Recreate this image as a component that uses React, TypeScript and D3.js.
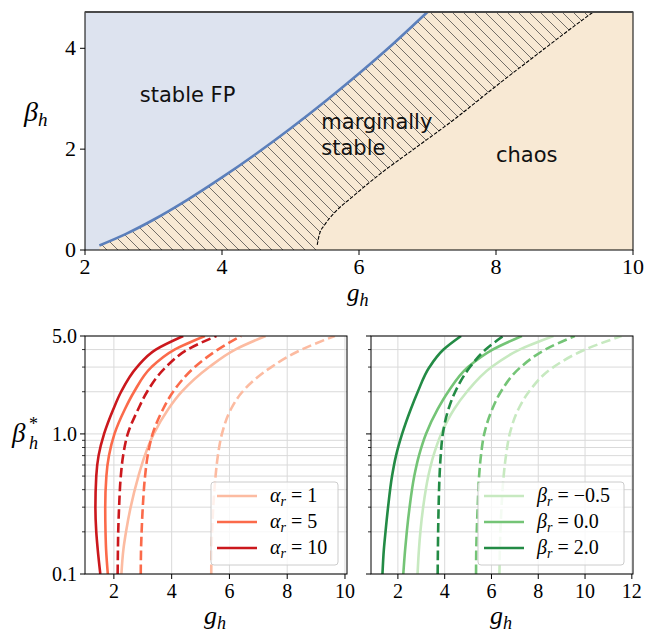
import React from "react";
import * as d3 from "d3";

const W = 660;
const H = 633;

// ---- top panel: phase diagram (g_h, beta_h)
const fpG = [2.21, 2.6, 3.0, 3.5, 4.0, 4.5, 5.0, 5.5, 6.0, 6.5, 7.0];
const fpBeta = [0.09, 0.32, 0.6, 1.0, 1.44, 1.91, 2.41, 2.94, 3.5, 4.09, 4.72];
const chaosG = [5.39, 5.42, 5.5, 5.65, 5.9, 6.3, 6.8, 7.4, 8.0, 8.6, 9.2, 9.42];
const chaosBeta = [0.1, 0.3, 0.5, 0.75, 1.05, 1.5, 2.0, 2.6, 3.25, 3.88, 4.5, 4.72];
const topXTicks = [2, 4, 6, 8, 10];
const topYTicks = [0, 2, 4];

// ---- bottom panels: beta_h* vs g_h
const betaLevels = [0.1, 0.15, 0.2, 0.3, 0.5, 0.7, 1.0, 1.5, 2.0, 3.0, 4.0, 5.0];
const alphaLabels = ["1", "5", "10"];
const alphaColors = ["#fcbba1", "#fb6a4a", "#cb181d"];
const alphaSolidG = [
  [2.26, 2.33, 2.42, 2.58, 2.85, 3.07, 3.38, 3.88, 4.35, 5.3, 6.2, 7.25],
  [1.79, 1.73, 1.71, 1.7, 1.74, 1.83, 2.02, 2.38, 2.7, 3.3, 4.1, 5.15],
  [1.53, 1.44, 1.39, 1.36, 1.39, 1.47, 1.66, 1.98, 2.25, 2.8, 3.45, 4.4],
];
const alphaDashedG = [
  [5.37, 5.38, 5.4, 5.44, 5.52, 5.6, 5.74, 6.05, 6.45, 7.45, 8.5, 9.65],
  [2.93, 2.94, 2.96, 3.0, 3.08, 3.17, 3.34, 3.7, 4.05, 4.8, 5.6, 6.4],
  [2.13, 2.14, 2.15, 2.18, 2.24, 2.32, 2.48, 2.84, 3.15, 3.8, 4.55, 5.55],
];
const betaRLabels = ["\u22120.5", "0.0", "2.0"];
const betaRColors = ["#c7e9c0", "#74c476", "#238b45"];
const betaRSolidG = [
  [2.84, 2.9, 2.96, 3.08, 3.3, 3.52, 3.85, 4.4, 4.95, 6.0, 7.2, 8.65],
  [2.23, 2.31, 2.38, 2.5, 2.7, 2.9, 3.2, 3.7, 4.15, 5.0, 6.05, 7.3],
  [1.34, 1.4, 1.47, 1.58, 1.75, 1.92, 2.18, 2.55, 2.85, 3.35, 3.95, 4.7],
];
const betaRDashedG = [
  [6.34, 6.36, 6.38, 6.43, 6.52, 6.62, 6.78, 7.15, 7.6, 8.65, 10.0, 11.56],
  [5.34, 5.35, 5.37, 5.41, 5.47, 5.55, 5.69, 6.03, 6.4, 7.25, 8.3, 9.56],
  [3.7, 3.71, 3.72, 3.74, 3.78, 3.83, 3.92, 4.16, 4.45, 5.08, 5.75, 6.5],
];
const leftXTicks = [2, 4, 6, 8, 10];
const rightXTicks = [2, 4, 6, 8, 10, 12];
const logMajor = [0.1, 1.0, 5.0];
const logMinor = [0.2, 0.3, 0.4, 0.5, 0.6, 0.7, 0.8, 0.9, 2, 3, 4];

const serif = "'Liberation Serif', 'DejaVu Serif', serif";
const sans = "'DejaVu Sans', sans-serif";

const xTop = d3.scaleLinear().domain([2, 10]).range([85, 633]);
const yTop = d3.scaleLinear().domain([0, 4.72]).range([250, 12]);
const yBot = d3.scaleLog().domain([0.1, 5]).range([574, 336]);
const xLeft = d3.scaleLinear().domain([1.0, 10.07]).range([85, 347]);
const xRight = d3.scaleLinear().domain([0.85, 12.05]).range([371, 633]);

function TopPanel() {
  const fpPts: [number, number][] = fpG.map((g, i) => [g, fpBeta[i]]);
  const chPts: [number, number][] = chaosG.map((g, i) => [g, chaosBeta[i]]);
  const line = d3
    .line<[number, number]>()
    .x((d) => xTop(d[0]))
    .y((d) => yTop(d[1]))
    .curve(d3.curveMonotoneX);
  const fpPath = line(fpPts) || "";
  const chPath = line(chPts) || "";
  const [x0, x1] = xTop.range();
  const [yb, yt] = yTop.range();
  // region left/above the fixed-point boundary
  const bluePath = fpPath + `L${x0},${yt}L${x0},${yb}L${xTop(fpG[0])},${yb}Z`;
  // everything right of the boundary is hatched, then the chaos part is painted over
  const hatchPath = fpPath + `L${x1},${yt}L${x1},${yb}L${xTop(fpG[0])},${yb}Z`;
  const chaosPath = chPath + `L${x1},${yt}L${x1},${yb}L${xTop(chaosG[0])},${yb}Z`;
  return (
    <g>
      <rect x={x0} y={yt} width={x1 - x0} height={yb - yt} fill="#f8e9d4" />
      <path d={bluePath} fill="#dde3ef" />
      <path d={hatchPath} fill="url(#hatch)" clipPath="url(#clipTop)" />
      <path d={chaosPath} fill="#f8e9d4" />
      <path d={chPath} fill="none" stroke="#000" strokeWidth={1.1} strokeDasharray="3.7,1.6" />
      <path d={fpPath} fill="none" stroke="#5b7fbb" strokeWidth={2.6} />
      <g fontFamily={sans} fontSize={21} fill="#111">
        <text x={xTop(2.8)} y={yTop(2.94)}>stable FP</text>
        <text x={xTop(5.45)} y={yTop(2.4)}>marginally</text>
        <text x={xTop(5.45)} y={yTop(1.88)}>stable</text>
        <text x={xTop(8.0)} y={yTop(1.74)}>chaos</text>
      </g>
      <rect x={x0} y={yt} width={x1 - x0} height={yb - yt} fill="none" stroke="#000" strokeWidth={1} />
      <line x1={x0} x2={x1} y1={yt} y2={yt} stroke="#4a4a4a" strokeWidth={2} />
      {topXTicks.map((t) => (
        <g key={t}>
          <line x1={xTop(t)} x2={xTop(t)} y1={yb} y2={yb + 5} stroke="#000" />
          <text x={xTop(t)} y={yb + 24} textAnchor="middle" fontFamily={serif} fontSize={22}>
            {t}
          </text>
        </g>
      ))}
      {topYTicks.map((t) => (
        <g key={t}>
          <line x1={x0 - 5} x2={x0} y1={yTop(t)} y2={yTop(t)} stroke="#000" />
          <text x={x0 - 9} y={yTop(t) + 7} textAnchor="end" fontFamily={serif} fontSize={22}>
            {t}
          </text>
        </g>
      ))}
      <text x={(x0 + x1) / 2 - 12} y={301} fontFamily={serif} fontSize={25} fontStyle="italic">
        g
        <tspan fontSize={18} dy={5}>h</tspan>
      </text>
      <text x={24} y={121} fontFamily={serif} fontSize={28} fontStyle="italic">
        β
        <tspan fontSize={19} dy={5}>h</tspan>
      </text>
    </g>
  );
}

function BottomPanel({
  x,
  xTicks,
  solid,
  dashed,
  colors,
  labels,
  sym,
  showY,
  id,
  legendX,
  legendW,
}: any) {
  const [x0, x1] = x.range();
  const [yb, yt] = yBot.range();
  const line = d3
    .line<number>()
    .x((d: number) => x(d))
    .y((_d: number, i: number) => yBot(betaLevels[i]))
    .curve(d3.curveMonotoneY);
  return (
    <g>
      <clipPath id={id}>
        <rect x={x0} y={yt} width={x1 - x0} height={yb - yt} />
      </clipPath>
      <g stroke="#dadada" strokeWidth={1}>
        {logMinor.concat(logMajor).map((v: number) => (
          <line key={"h" + v} x1={x0} x2={x1} y1={yBot(v)} y2={yBot(v)} />
        ))}
        {xTicks.map((t: number) => (
          <line key={"v" + t} x1={x(t)} x2={x(t)} y1={yt} y2={yb} />
        ))}
      </g>
      <g clipPath={`url(#${id})`} fill="none" strokeWidth={2.6}>
        {solid.map((s: number[], i: number) => (
          <path key={"s" + i} d={line(s) || ""} stroke={colors[i]} />
        ))}
        {dashed.map((s: number[], i: number) => (
          <path key={"d" + i} d={line(s) || ""} stroke={colors[i]} strokeDasharray="9.6,4.2" />
        ))}
      </g>
      <rect x={legendX} y={482} width={legendW} height={83} rx={3} fill="#fff" fillOpacity={0.8} stroke="#cccccc" />
      {labels.map((lab: string, i: number) => {
        const yy = 496 + i * 26;
        return (
          <g key={lab}>
            <line x1={legendX + 6} x2={legendX + 46} y1={yy} y2={yy} stroke={colors[i]} strokeWidth={2.6} />
            <text x={legendX + 59} y={yy + 6} fontFamily={serif} fontSize={20}>
              <tspan fontStyle="italic">{sym}</tspan>
              <tspan fontStyle="italic" fontSize={14} dy={4}>r</tspan>
              <tspan dy={-4}>{" = " + lab}</tspan>
            </text>
          </g>
        );
      })}
      <rect x={x0} y={yt} width={x1 - x0} height={yb - yt} fill="none" stroke="#000" strokeWidth={1} />
      {xTicks.map((t: number) => (
        <g key={t}>
          <line x1={x(t)} x2={x(t)} y1={yb} y2={yb + 5} stroke="#000" />
          <text x={x(t)} y={yb + 24} textAnchor="middle" fontFamily={serif} fontSize={20}>
            {t}
          </text>
        </g>
      ))}
      {logMajor.map((v: number) => (
        <g key={v}>
          <line x1={x0 - 5} x2={x0} y1={yBot(v)} y2={yBot(v)} stroke="#000" />
          {showY && (
            <text x={x0 - 8} y={yBot(v) + 7} textAnchor="end" fontFamily={serif} fontSize={20}>
              {d3.format(".1f")(v)}
            </text>
          )}
        </g>
      ))}
      {logMinor.map((v: number) => (
        <line key={v} x1={x0 - 3} x2={x0} y1={yBot(v)} y2={yBot(v)} stroke="#000" strokeWidth={0.8} />
      ))}
      <text x={(x0 + x1) / 2 - 12} y={624} fontFamily={serif} fontSize={26} fontStyle="italic">
        g
        <tspan fontSize={18} dy={5}>h</tspan>
      </text>
    </g>
  );
}

export default function App() {
  return (
    <svg
      width={W}
      height={H}
      viewBox={`0 0 ${W} ${H}`}
      style={{ position: "absolute", left: 0, top: 0, background: "#fff" }}
    >
      <defs>
        <pattern id="hatch" patternUnits="userSpaceOnUse" width={11} height={11}>
          <path d="M-1,-1L12,12M-1,10L1,12M10,-1L12,1" stroke="#3a3a3a" strokeWidth={0.7} />
        </pattern>
        <clipPath id="clipTop">
          <rect x={85} y={12} width={548} height={238} />
        </clipPath>
      </defs>
      <rect width={W} height={H} fill="#fff" />
      <TopPanel />
      <BottomPanel
        id="clipL"
        x={xLeft}
        xTicks={leftXTicks}
        solid={alphaSolidG}
        dashed={alphaDashedG}
        colors={alphaColors}
        labels={alphaLabels}
        sym="α"
        showY={true}
        legendX={211}
        legendW={127}
      />
      <BottomPanel
        id="clipR"
        x={xRight}
        xTicks={rightXTicks}
        solid={betaRSolidG}
        dashed={betaRDashedG}
        colors={betaRColors}
        labels={betaRLabels}
        sym="β"
        showY={false}
        legendX={478}
        legendW={146}
      />
      <text x={12} y={442} fontFamily={serif} fontSize={27} fontStyle="italic">
        β
      </text>
      <text x={29} y={430} fontFamily={serif} fontSize={18}>
        *
      </text>
      <text x={29} y={449} fontFamily={serif} fontSize={18} fontStyle="italic">
        h
      </text>
    </svg>
  );
}
